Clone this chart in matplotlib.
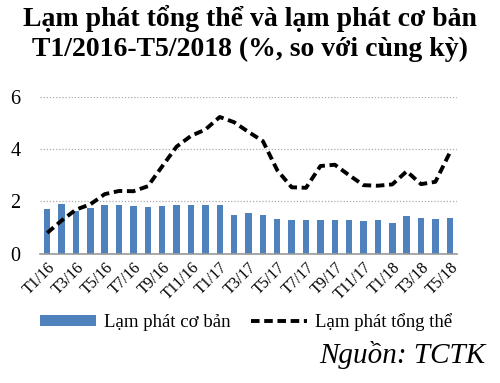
import matplotlib.pyplot as plt
import numpy as np

months = ['T1/16', 'T2/16', 'T3/16', 'T4/16', 'T5/16', 'T6/16', 'T7/16', 'T8/16', 'T9/16', 'T10/16',
          'T11/16', 'T12/16', 'T1/17', 'T2/17', 'T3/17', 'T4/17', 'T5/17', 'T6/17', 'T7/17', 'T8/17',
          'T9/17', 'T10/17', 'T11/17', 'T12/17', 'T1/18', 'T2/18', 'T3/18', 'T4/18', 'T5/18']
core = [1.72, 1.92, 1.64, 1.76, 1.86, 1.86, 1.84, 1.80, 1.83, 1.86,
        1.87, 1.87, 1.88, 1.49, 1.56, 1.47, 1.33, 1.28, 1.28, 1.31,
        1.31, 1.31, 1.27, 1.29, 1.18, 1.44, 1.37, 1.33, 1.36]
headline = [0.80, 1.27, 1.69, 1.89, 2.28, 2.40, 2.39, 2.58, 3.34, 4.09,
            4.50, 4.74, 5.22, 5.02, 4.65, 4.30, 3.19, 2.54, 2.52, 3.35,
            3.40, 3.00, 2.62, 2.60, 2.65, 3.15, 2.66, 2.75, 3.86]

plt.rcParams['font.family'] = ['Liberation Serif', 'DejaVu Serif']

fig = plt.figure(figsize=(5, 3.83), dpi=100)
ax = fig.add_axes([0.08, 0.337, 0.834, 0.411])

x = np.arange(len(months))
bars = ax.bar(x, core, width=0.45, color='#4f81bd', label='Lạm phát cơ bản', zorder=2)
line, = ax.plot(x, headline, color='black', linestyle=(0, (2.2, 1.2)), linewidth=2.8,
                label='Lạm phát tổng thể', zorder=3)

ax.set_xlim(-0.5, len(months) - 0.5)
ax.set_ylim(0, 6)
ax.set_yticks([0, 2, 4, 6])
ax.yaxis.grid(True, linestyle=(0, (1, 1.5)), color='#aaaaaa', linewidth=0.9, zorder=0)
ax.set_axisbelow(True)
for s in ['top', 'right', 'left']:
    ax.spines[s].set_visible(False)
ax.spines['bottom'].set_color('#999999')
ax.spines['bottom'].set_linewidth(1.2)
ax.tick_params(length=0, labelsize=14.5)
ax.tick_params(axis='y', pad=14)

ax.set_xticks(x[::2])
ax.set_xticklabels(months[::2], rotation=45, ha='right', va='top', fontsize=11.5,
                   rotation_mode='anchor')
ax.tick_params(axis='x', pad=4)

fig.text(0.5, 0.952, 'Lạm phát tổng thể và lạm phát cơ bản', ha='center', va='center',
         fontsize=20, fontweight='bold')
fig.text(0.5, 0.872, 'T1/2016-T5/2018 (%, so với cùng kỳ)', ha='center', va='center',
         fontsize=20, fontweight='bold')

fig.legend(handles=[bars, line], loc='center', bbox_to_anchor=(0.492, 0.158), ncol=2,
           frameon=False, fontsize=13.5, handlelength=3.0, handleheight=0.55,
           columnspacing=1.1, handletextpad=0.4)

fig.text(0.97, 0.073, 'Nguồn: TCTK', ha='right', va='center', fontsize=21, style='italic')

fig.savefig('out.png', dpi=100)
